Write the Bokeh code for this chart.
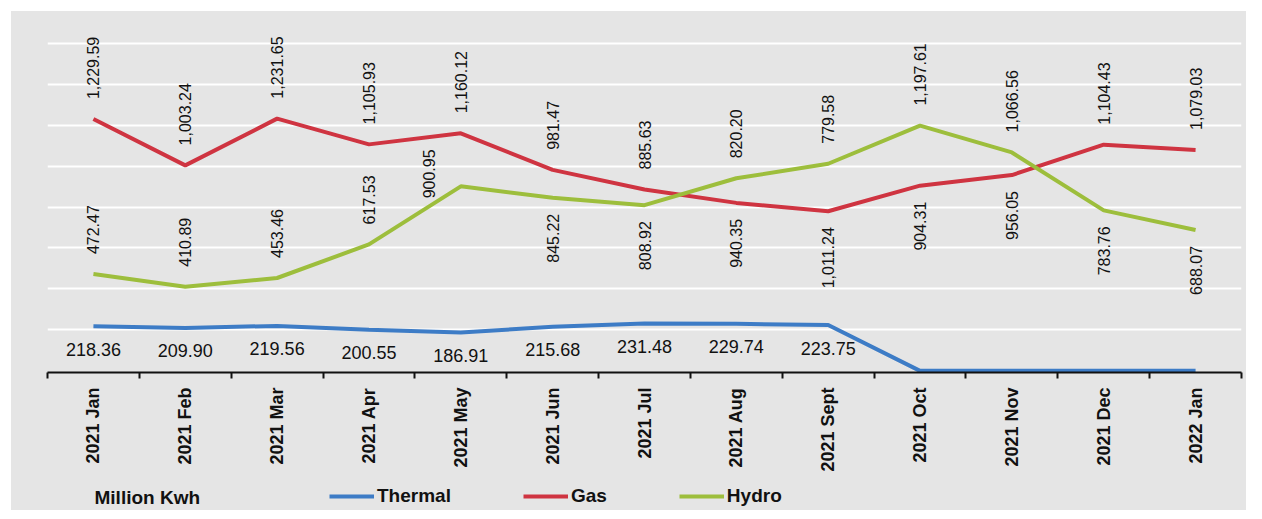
import math
from bokeh.plotting import figure
from bokeh.layouts import column
from bokeh.models import (ColumnDataSource, FixedTicker, Grid, Legend, LegendItem,
                          Label, Range1d)
from bokeh.core.properties import value
from bokeh.embed import file_html
from bokeh.resources import INLINE

# ---- data ----
months = ["2021 Jan", "2021 Feb", "2021 Mar", "2021 Apr", "2021 May", "2021 Jun",
          "2021 Jul", "2021 Aug", "2021 Sept", "2021 Oct", "2021 Nov", "2021 Dec",
          "2022 Jan"]
thermal = [218.36, 209.90, 219.56, 200.55, 186.91, 215.68, 231.48, 229.74, 223.75,
           0, 0, 0, 0]
gas = [1229.59, 1003.24, 1231.65, 1105.93, 1160.12, 981.47, 885.63, 820.20, 779.58,
       904.31, 956.05, 1104.43, 1079.03]
hydro = [472.47, 410.89, 453.46, 617.53, 900.95, 845.22, 808.92, 940.35, 1011.24,
         1197.61, 1066.56, 783.76, 688.07]
grid_values = [200, 400, 600, 800, 1000, 1200, 1400, 1600]
series_names = ["Thermal", "Gas", "Hydro"]
unit_label = "Million Kwh"

# ---- styling ----
FONT = "Liberation Sans"
BG = "#E5E5E5"
INK = "#111111"
C_THERMAL = "#3D7CC6"
C_GAS = "#CF3441"
C_HYDRO = "#9DBE3C"
W = 1235

xs = list(range(len(months)))

p = figure(width=W, height=466, output_backend="svg", toolbar_location=None,
           x_range=Range1d(-0.5, len(months) - 0.5), y_range=Range1d(-8, 1745),
           y_axis_location=None, min_border_left=36, min_border_right=5,
           min_border_top=2, min_border_bottom=105)
p.background_fill_color = BG
p.border_fill_color = BG
p.outline_line_color = None
p.xgrid.visible = False

p.add_layout(Grid(dimension=1, ticker=FixedTicker(ticks=grid_values),
                  grid_line_color="white", grid_line_width=2))

ax = p.xaxis[0]
ax.ticker = FixedTicker(ticks=xs, minor_ticks=[x - 0.5 for x in xs] + [xs[-1] + 0.5])
ax.major_label_overrides = {i: m for i, m in enumerate(months)}
ax.major_label_orientation = math.pi / 2
ax.major_label_text_font = FONT
ax.major_label_text_font_style = "bold"
ax.major_label_text_font_size = "18px"
ax.major_label_text_color = INK
ax.major_label_standoff = 9
ax.major_tick_line_color = None
ax.major_tick_out = 5
ax.major_tick_in = 0
ax.minor_tick_line_color = INK
ax.minor_tick_line_width = 2
ax.minor_tick_out = 6
ax.minor_tick_in = 0
ax.axis_line_color = INK
ax.axis_line_width = 2

src = ColumnDataSource(dict(x=xs, thermal=thermal, gas=gas, hydro=hydro))
p.line("x", "thermal", source=src, line_color=C_THERMAL, line_width=4)
p.line("x", "gas", source=src, line_color=C_GAS, line_width=4)
p.line("x", "hydro", source=src, line_color=C_HYDRO, line_width=4)

# thermal labels (horizontal, below the line)
tx = [x for x, v in zip(xs, thermal) if v > 0]
tv = [v for v in thermal if v > 0]
p.text(x=tx, y=tv, text=[f"{v:.2f}" for v in tv], text_align="center",
       text_baseline="middle", y_offset=23, text_font=value(FONT),
       text_font_size="18px", text_color=INK)

# gas / hydro labels (vertical)
both_above = set(months[:5])
hydro_on_top = {"2021 Oct", "2021 Nov"}
nudge = {("hydro", "2021 May"): (-32, 32)}
up = dict(x=[], y=[], text=[], xo=[], yo=[])
dn = dict(x=[], y=[], text=[], xo=[], yo=[])


def put(d, x, y, v, key, base):
    dx, dy = nudge.get(key, (0, 0))
    d["x"].append(x)
    d["y"].append(y)
    d["text"].append(f"{v:,.2f}")
    d["xo"].append(dx)
    d["yo"].append(base + dy)


for x, m, g, h in zip(xs, months, gas, hydro):
    if m in both_above:
        put(up, x, g, g, ("gas", m), -20)
        put(up, x, h, h, ("hydro", m), -20)
    else:
        hi, lo = max(g, h), min(g, h)
        if m in hydro_on_top:
            put(up, x, hi, h, ("hydro", m), -20)
            put(dn, x, lo, g, ("gas", m), 16)
        else:
            put(up, x, hi, g, ("gas", m), -20)
            put(dn, x, lo, h, ("hydro", m), 16)

for d, al in ((up, "left"), (dn, "right")):
    p.text(x="x", y="y", text="text", x_offset="xo", y_offset="yo",
           source=ColumnDataSource(d), angle=math.pi / 2, text_align=al,
           text_baseline="middle", text_font=value(FONT), text_font_size="16px",
           text_color=INK)

# ---- legend strip ----
q = figure(width=W, height=33, output_backend="svg", toolbar_location=None,
           x_range=Range1d(0, 1), y_range=Range1d(0, 1), x_axis_location=None,
           y_axis_location=None, min_border_left=36, min_border_right=5,
           min_border_top=0, min_border_bottom=0)
q.background_fill_color = BG
q.border_fill_color = BG
q.outline_line_color = None
q.grid.visible = False
# renderers only for the legend swatches (their points lie outside the visible range)
rs = [q.line(x=[-5, -4], y=[-5, -4], line_color=c, line_width=4)
      for c in (C_THERMAL, C_GAS, C_HYDRO)]
legend = Legend(items=[LegendItem(label=n, renderers=[r]) for n, r in zip(series_names, rs)],
                orientation="horizontal", location=(282, 3), padding=0, margin=0,
                spacing=72, glyph_width=45, glyph_height=20, label_standoff=3,
                label_height=20, border_line_color=None, background_fill_alpha=0,
                label_text_font=FONT, label_text_font_style="bold",
                label_text_font_size="19px", label_text_color=INK)
q.add_layout(legend, "center")
q.add_layout(Label(x=47, y=13, x_units="screen", y_units="screen", text=unit_label,
                   text_baseline="middle", text_font=FONT, text_font_style="bold",
                   text_font_size="19px", text_color=INK))

layout = column(p, q, spacing=0, margin=(11, 0, 0, 11))
layout.styles = {"background-color": BG}
open("out.html", "w").write(file_html(layout, INLINE))
